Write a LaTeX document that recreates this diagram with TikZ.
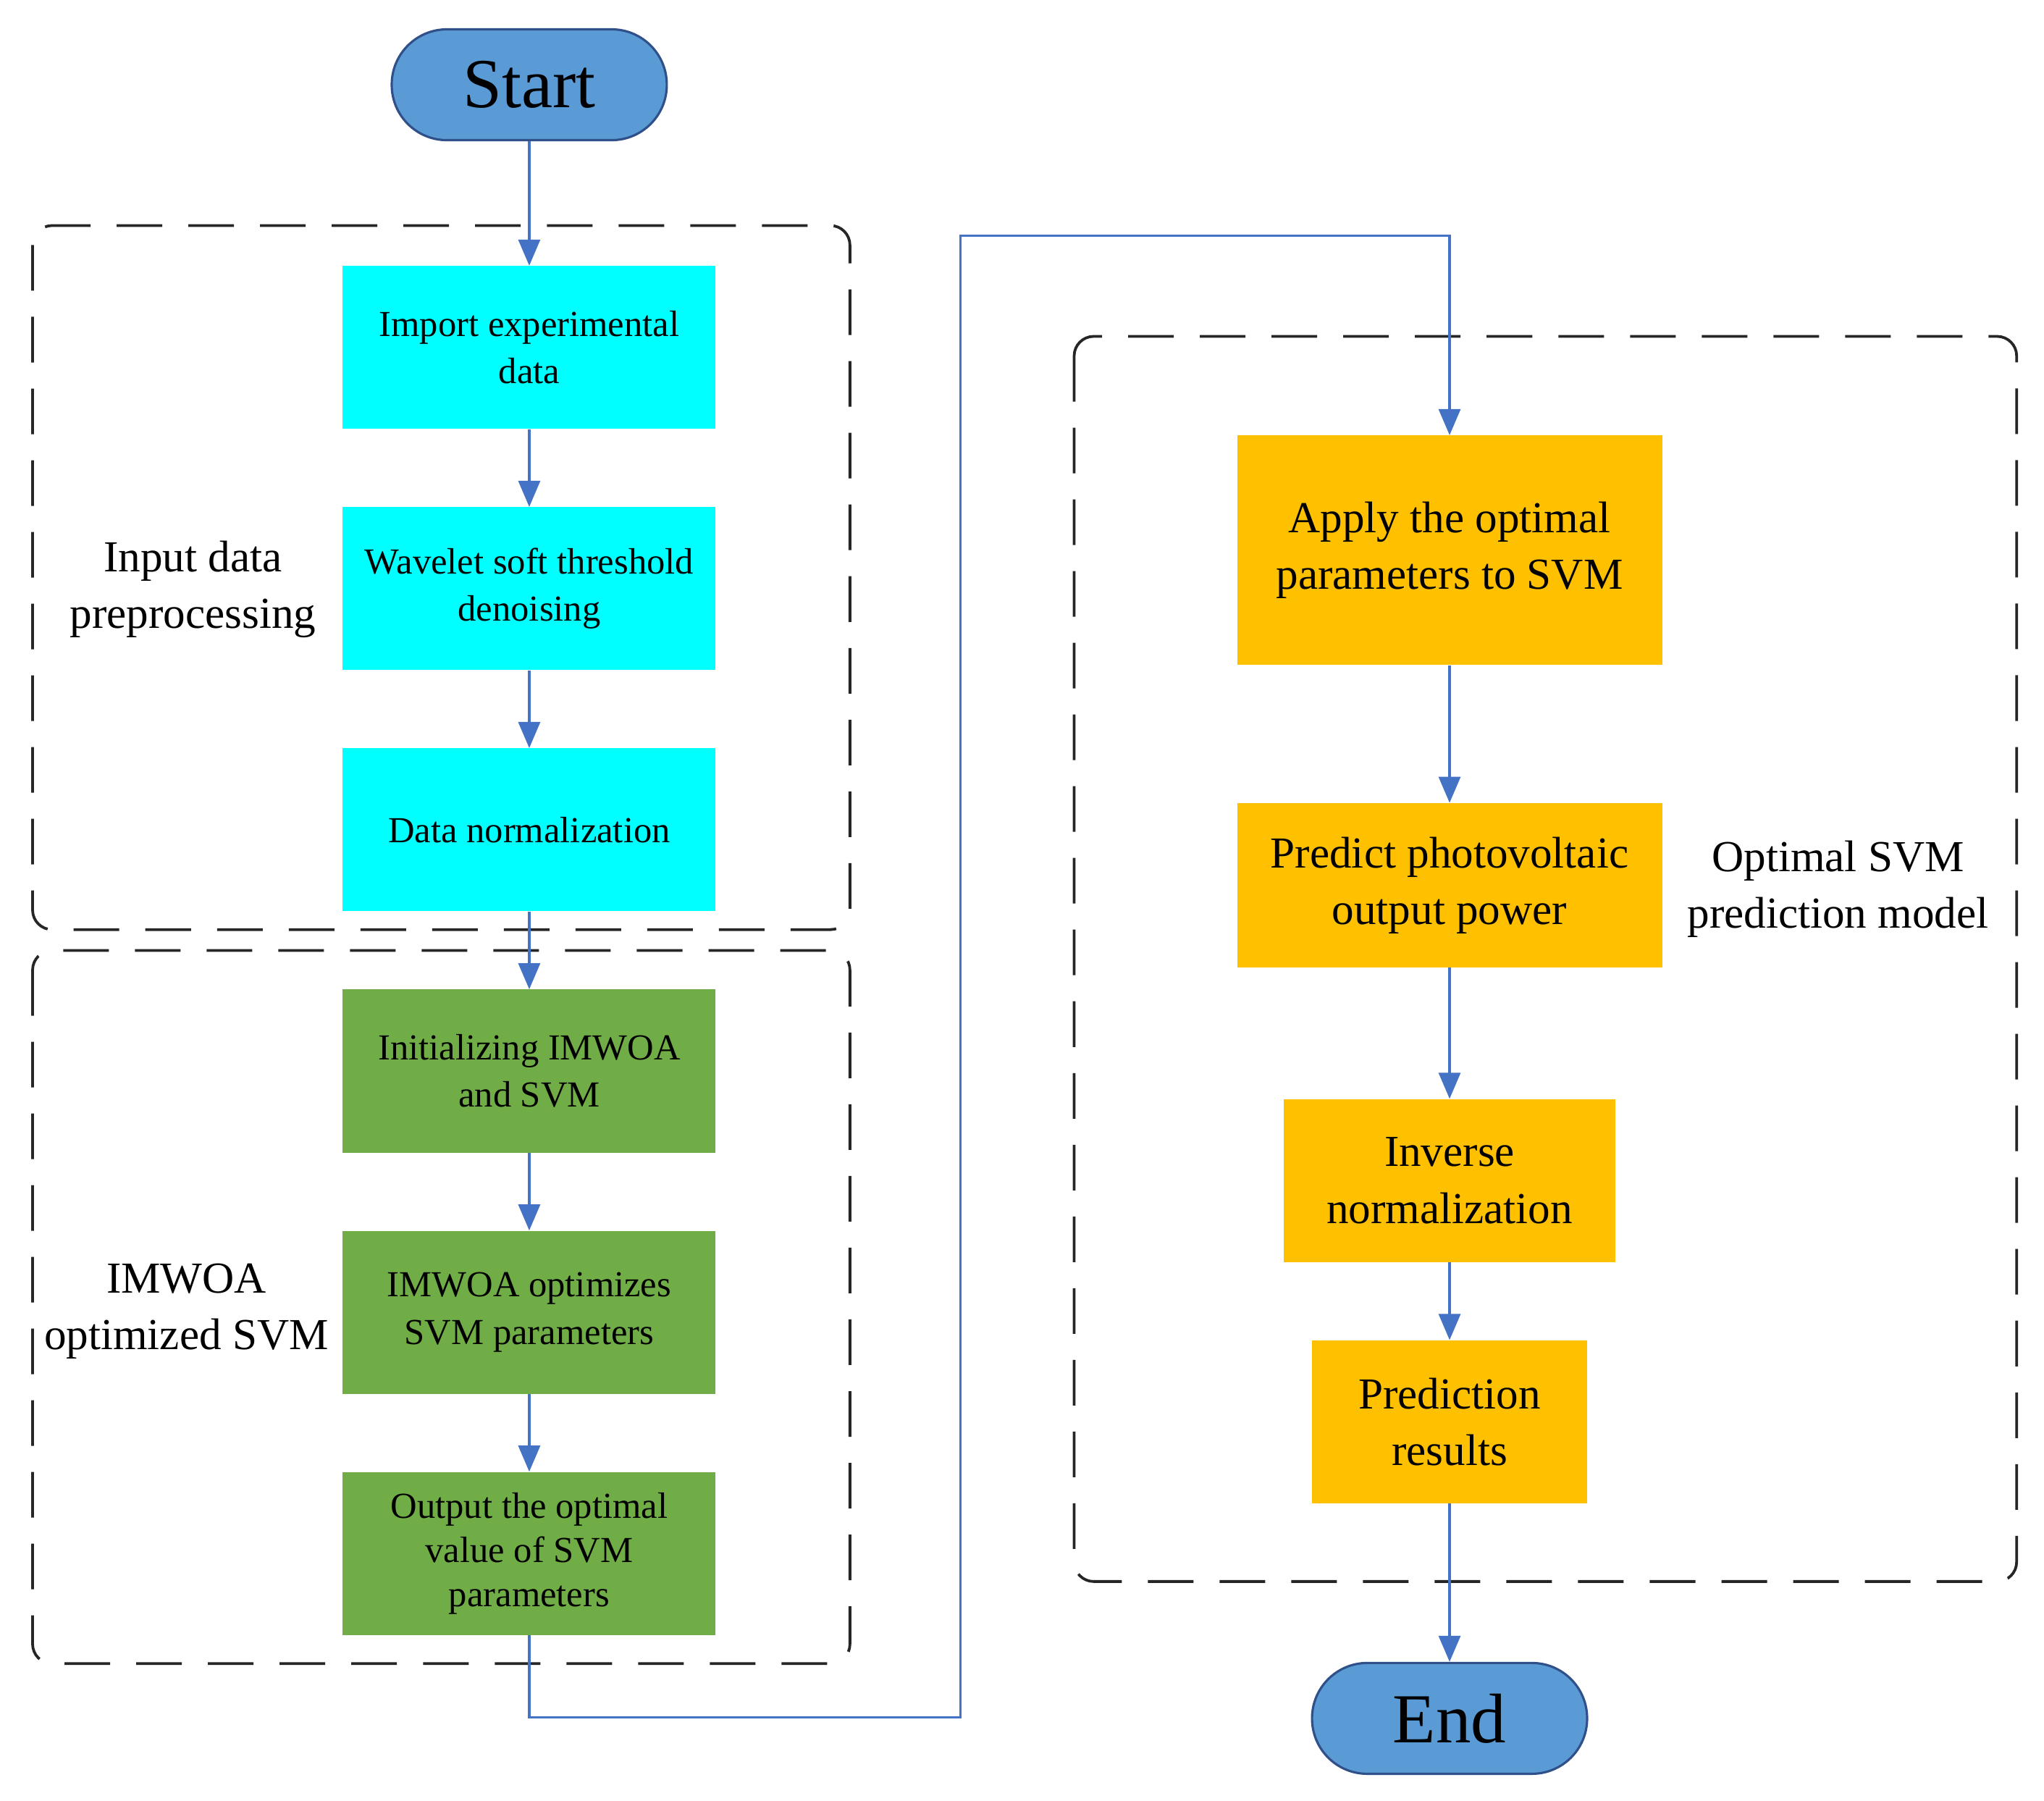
\documentclass[tikz,border=0pt]{standalone}
\usepackage{fontspec}
\setmainfont{Liberation Serif}
\usetikzlibrary{arrows.meta}
\definecolor{ablue}{HTML}{4472C4}
\definecolor{sblue}{HTML}{5B9BD5}
\definecolor{cy}{HTML}{00FFFF}
\definecolor{gr}{HTML}{70AD47}
\definecolor{og}{HTML}{FFC000}
\begin{document}
\begin{tikzpicture}[x=0.03cm,y=-0.03cm,
  box/.style={draw=none,align=center,inner sep=0pt},
  cbox/.style={box,fill=cy,minimum width=8.58cm,minimum height=3.75cm,font=\fontsize{24}{31}\selectfont},
  gbox/.style={box,fill=gr,minimum width=8.58cm,minimum height=3.75cm,font=\fontsize{24}{31}\selectfont},
  obox/.style={box,fill=og,font=\fontsize{29}{37}\selectfont},
  term/.style={draw=ablue!70!black,line width=1.5pt,fill=sblue,rounded corners=1.27cm,minimum width=6.33cm,minimum height=2.55cm,font=\fontsize{46}{50}\selectfont},
  grp/.style={draw=black!85,line width=1.8pt,dash pattern=on 1.05cm off 0.6cm,rounded corners=0.45cm},
  lab/.style={align=center,font=\fontsize{29}{37}\selectfont},
  arr/.style={draw=ablue,line width=1.5pt,-{Triangle[length=0.6cm,width=0.5cm]}}]
\useasboundingbox (0,0) rectangle (1568,1381);
\draw[grp] (25,173) rectangle (652,713);
\draw[grp] (25,729) rectangle (652,1276);
\draw[grp] (824,258) rectangle (1547,1213);
\node[term] (start) at (406,65) {Start};
\node[cbox] (a1) at (406,266.5) {Import experimental\\data};
\node[cbox] (a2) at (406,451.5) {Wavelet soft threshold\\denoising};
\node[cbox] (a3) at (406,636.5) {Data normalization};
\node[gbox] (b1) at (406,821.5) {Initializing IMWOA\\and SVM};
\node[gbox] (b2) at (406,1006.5) {IMWOA optimizes\\SVM parameters};
\node[gbox,font=\fontsize{24}{29}\selectfont] (b3) at (406,1191.5) {Output the optimal\\value of SVM\\parameters};
\node[obox,minimum width=9.78cm,minimum height=5.28cm] (c1) at (1112,422) {Apply the optimal\\parameters to SVM};
\node[obox,minimum width=9.78cm,minimum height=3.78cm] (c2) at (1112,679) {Predict photovoltaic\\output power};
\node[obox,minimum width=7.62cm,minimum height=3.75cm] (c3) at (1112,905.5) {Inverse\\normalization};
\node[obox,minimum width=6.33cm,minimum height=3.75cm] (c4) at (1112,1090.5) {Prediction\\results};
\node[term] (end) at (1112,1318) {End};
\node[lab] (l1) at (148,452) {Input data\\preprocessing};
\node[lab] (l2) at (143,1006) {IMWOA\\optimized SVM};
\node[lab] (l3) at (1410,682) {Optimal SVM\\prediction model};
\coordinate (p1) at (406,1317);
\coordinate (p2) at (737,1317);
\coordinate (p3) at (737,181);
\coordinate (p4) at (1112,181);
\draw[arr] (start) -- (a1);
\draw[arr] (a1) -- (a2);
\draw[arr] (a2) -- (a3);
\draw[arr] (a3) -- (b1);
\draw[arr] (b1) -- (b2);
\draw[arr] (b2) -- (b3);
\draw[arr] (b3.south) -- (p1) -- (p2) -- (p3) -- (p4) -- (c1.north);
\draw[arr] (c1) -- (c2);
\draw[arr] (c2) -- (c3);
\draw[arr] (c3) -- (c4);
\draw[arr] (c4) -- (end);
\end{tikzpicture}
\end{document}
